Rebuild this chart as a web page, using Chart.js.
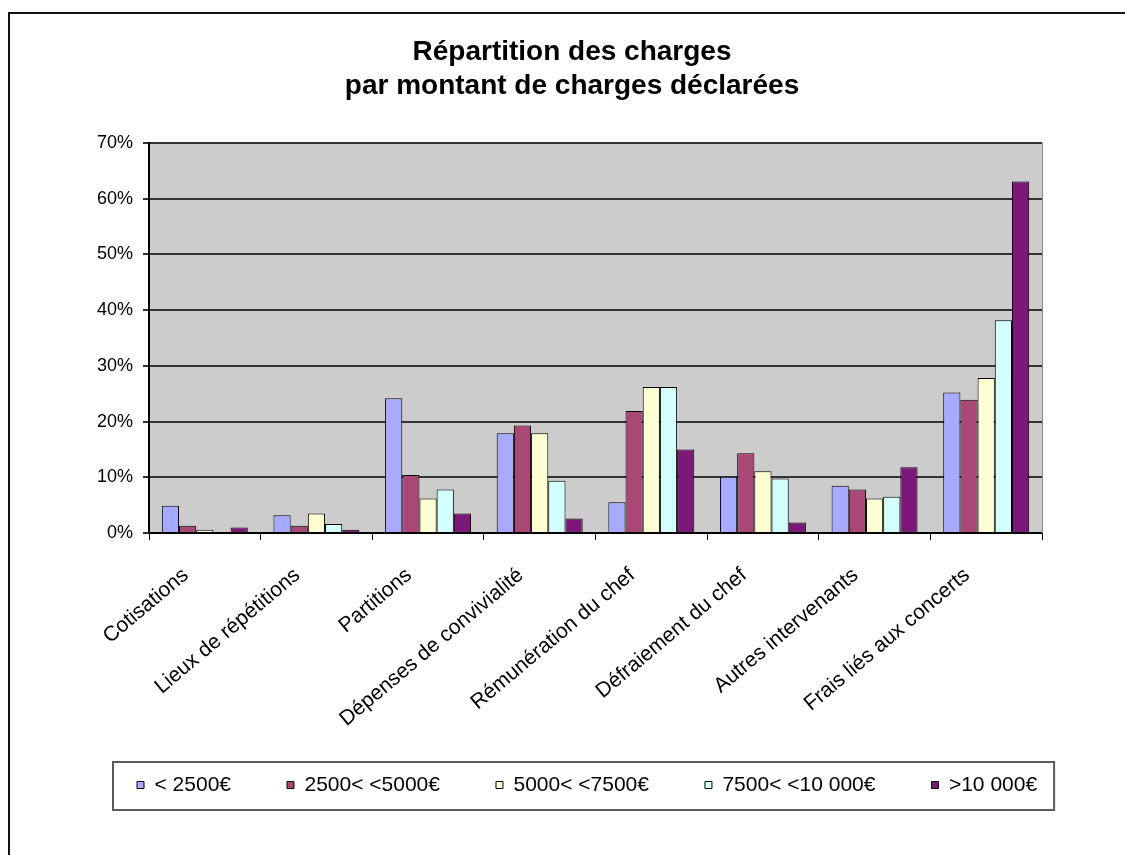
<!DOCTYPE html>
<html lang="fr">
<head>
<meta charset="utf-8">
<title>Répartition des charges</title>
<script src="https://cdn.jsdelivr.net/npm/chart.js@4.4.1/dist/chart.umd.min.js"></script>
<style>
  html, body { margin: 0; padding: 0; background: #fff; }
  #wrap { position: relative; width: 1125px; height: 855px; overflow: hidden; }
  #frame { position: absolute; left: 8px; top: 12px; width: 1200px; height: 900px;
           border-left: 2px solid #111; border-top: 2px solid #111; }
  #chart { position: absolute; left: 0; top: 0; }
</style>
</head>
<body>
<div id="wrap">
  <div id="frame"></div>
  <canvas id="chart" width="1125" height="855"></canvas>
</div>
<script>
// --- data (percent of declared charges) ---
const categories = ['Cotisations', 'Lieux de répétitions', 'Partitions', 'Dépenses de convivialité',
  'Rémunération du chef', 'Défraiement du chef', 'Autres intervenants', 'Frais liés aux concerts'];

const seriesLabels = ['< 2500€', '2500< <5000€', '5000< <7500€', '7500< <10 000€', '>10 000€'];

const under2500   = [4.9, 3.2, 24.2, 17.9, 5.5, 10.1, 8.5, 25.2];
const from2500    = [1.3, 1.3, 10.4, 19.3, 21.9, 14.3, 7.8, 23.9];
const from5000    = [0.6, 3.5, 6.2, 17.9, 26.2, 11.1, 6.2, 27.8];
const from7500    = [0, 1.6, 7.8, 9.4, 26.2, 9.8, 6.5, 38.2];
const over10000   = [1.0, 0.6, 3.5, 2.6, 15.0, 1.9, 11.8, 63.1];

const yTicks = { min: 0, max: 70, step: 10 };

const seriesValues = [under2500, from2500, from5000, from7500, over10000];
const seriesColors = ['#a8aaff', '#a94876', '#ffffd3', '#d3ffff', '#7b1878'];

const FONT = "'Liberation Sans', Arial, sans-serif";
Chart.defaults.font.family = FONT;
Chart.defaults.color = '#000';

// grey plot background + thin right edge, like the old spreadsheet chart
const plotBg = {
    id: 'plotBg',
    beforeDraw(chart) {
        const { ctx, chartArea: a } = chart;
        ctx.save();
        ctx.fillStyle = '#cccccc';
        ctx.fillRect(a.left, a.top, a.right - a.left, a.bottom - a.top);
        ctx.restore();
    },
    afterDraw(chart) {
        const { ctx, chartArea: a } = chart;
        ctx.save();
        ctx.strokeStyle = '#8a8a8a';
        ctx.lineWidth = 1;
        ctx.beginPath();
        ctx.moveTo(a.right + 0.5, a.top);
        ctx.lineTo(a.right + 0.5, a.bottom);
        ctx.stroke();
        ctx.restore();
    }
};

// box around the legend
const legendFrame = {
    id: 'legendFrame',
    afterDraw(chart) {
        const hb = chart.legend && chart.legend.legendHitBoxes;
        if (!hb || !hb.length) return;
        const first = hb[0], last = hb[hb.length - 1];
        const mid = first.top + first.height / 2;
        const x0 = first.left - 24;
        const x1 = last.left + last.width + 17;
        const c = chart.ctx;
        c.save();
        c.strokeStyle = '#5a5a5a';
        c.lineWidth = 2;
        c.strokeRect(x0, mid - 23, x1 - x0, 48);
        c.restore();
    }
};

// centre the title on the page, and let the long rotated labels run
// past the x-axis box instead of being clipped by it
const layoutTweaks = {
    id: 'layoutTweaks',
    afterLayout(chart) {
        const t = chart.titleBlock;
        if (t) {
            const dx = 572 - (t.left + t.right) / 2;
            t.left += dx;
            t.right += dx;
        }
        chart.scales.x.bottom = chart.height;
    }
};

new Chart(document.getElementById('chart'), {
    type: 'bar',
    data: {
        labels: categories,
        datasets: seriesLabels.map((label, i) => ({
            label,
            data: seriesValues[i],
            backgroundColor: seriesColors[i],
            borderColor: '#000',
            borderWidth: 1,
            categoryPercentage: 0.77,
            barPercentage: 1
        }))
    },
    options: {
        responsive: false,
        animation: false,
        devicePixelRatio: 1,
        layout: { padding: { left: 81, right: 25, top: 0, bottom: 49.5 } },
        plugins: {
            title: {
                display: true,
                text: ['Répartition des charges', 'par montant de charges déclarées'],
                font: { size: 28, weight: 'bold', lineHeight: 1.214 },
                color: '#000',
                padding: { top: 35.3, bottom: 39.7 }
            },
            legend: {
                position: 'bottom',
                align: 'start',
                labels: { boxWidth: 7, boxHeight: 7, padding: 56, font: { size: 21 }, color: '#000' }
            },
            tooltip: { enabled: false }
        },
        scales: {
            x: {
                grid: { display: true, drawOnChartArea: false, drawTicks: true, tickLength: 7, color: '#000', offset: true },
                border: { color: '#000', width: 2 },
                ticks: { minRotation: 40, maxRotation: 40, autoSkip: false, padding: 23, labelOffset: -19,
                         font: { size: 21 }, color: '#000' },
                afterFit: s => { s.height = 185.5; }
            },
            y: {
                min: yTicks.min, max: yTicks.max,
                ticks: { stepSize: yTicks.step, callback: v => v + '%', padding: 10, font: { size: 18 }, color: '#000' },
                grid: { color: '#333', lineWidth: 2, tickLength: 6 },
                border: { color: '#000', width: 2 },
                afterFit: s => { s.width = 68; }
            },
            yPad: {
                position: 'right',
                display: true,
                grid: { display: false },
                border: { display: false },
                ticks: { display: false },
                afterFit: s => { s.width = 58; }
            }
        }
    },
    plugins: [plotBg, legendFrame, layoutTweaks]
});
</script>
</body>
</html>
